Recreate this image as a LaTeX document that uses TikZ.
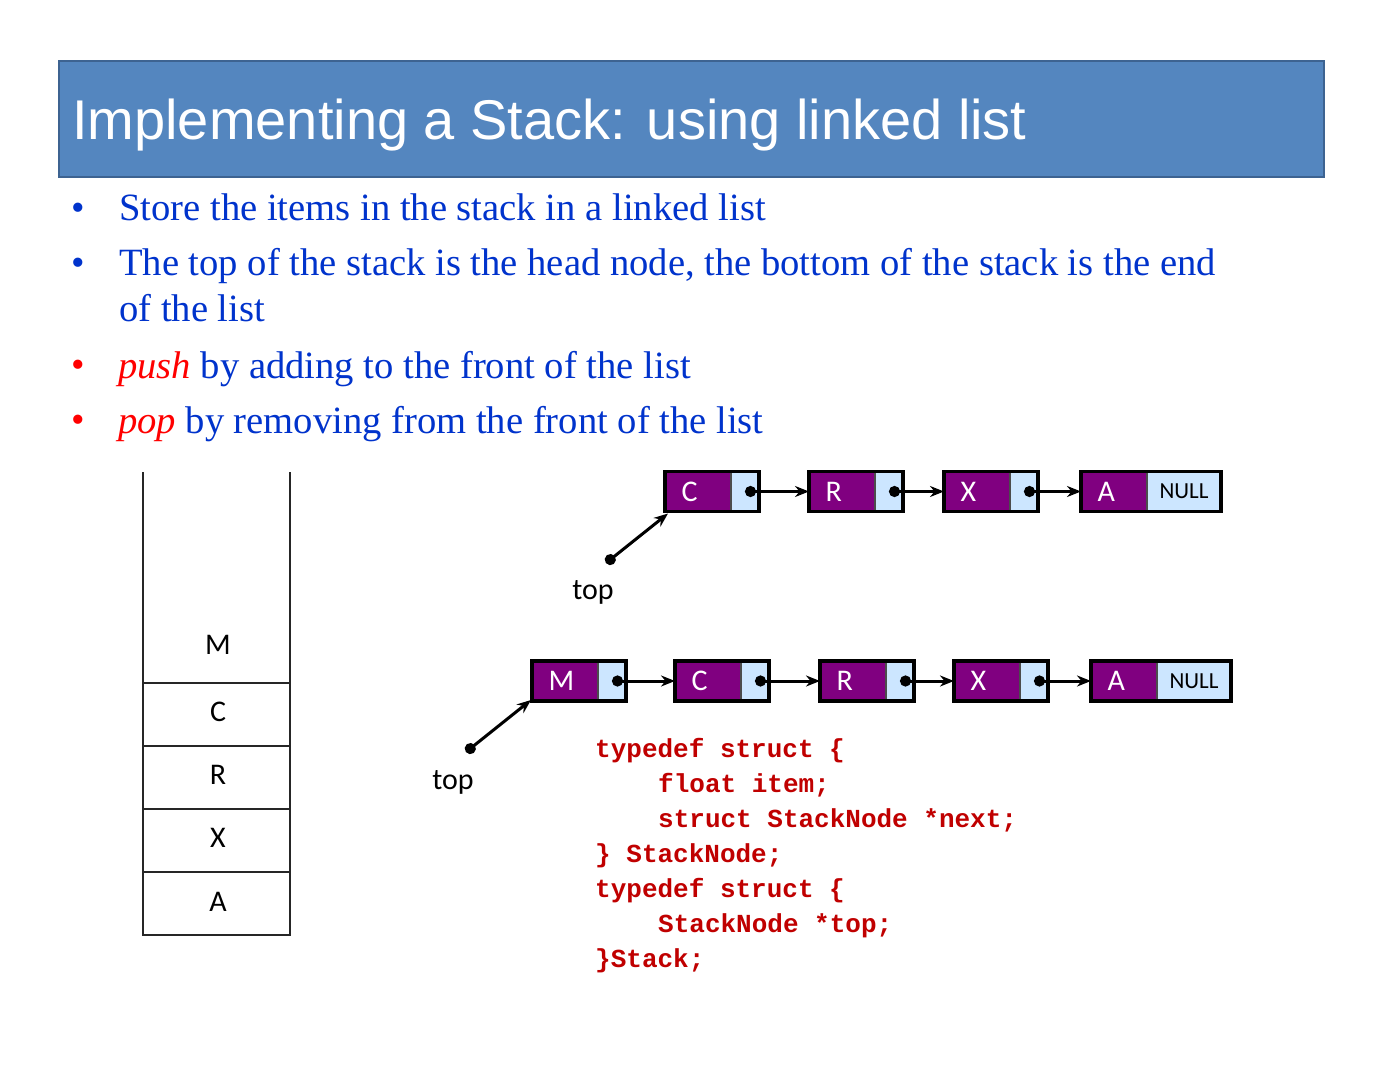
\documentclass[tikz,border=0pt]{standalone}
\usepackage{fontspec}
\setmainfont{Liberation Serif}
\newfontfamily\titlefont{Liberation Sans}
\newfontfamily\cellfont{Carlito}
\newfontfamily\codefont{Liberation Mono}
\usetikzlibrary{arrows.meta}

\definecolor{titlefill}{RGB}{84,134,191}
\definecolor{titleborder}{RGB}{61,99,145}
\definecolor{textblue}{RGB}{0,51,204}
\definecolor{emred}{RGB}{255,0,0}
\definecolor{codered}{RGB}{192,0,0}
\definecolor{datapurple}{RGB}{128,0,128}
\definecolor{ptrblue}{RGB}{204,230,255}

\tikzset{
  bodytext/.style={anchor=base west, inner sep=0pt, font=\fontsize{38.6}{46}\selectfont, text=textblue},
  bulletmark/.style={anchor=base, inner sep=0pt, font=\fontsize{38.6}{46}\selectfont},
  datacell/.style={draw=black!70, line width=1pt, fill=datapurple, text=white,
    minimum width=65pt, minimum height=39pt, inner xsep=0pt, inner ysep=0pt,
    text width=65pt, align=left, anchor=west,
    font=\cellfont\fontsize{30}{30}\selectfont},
  ptrcell/.style={draw=black!70, line width=1pt, fill=ptrblue,
    minimum width=27pt, minimum height=39pt, inner sep=0pt, anchor=west},
  nullcell/.style={draw=black!70, line width=1pt, fill=ptrblue, text=black,
    minimum width=73pt, minimum height=39pt, inner sep=0pt, anchor=west,
    font=\cellfont\fontsize{23}{23}\selectfont},
  cellframe/.style={draw=black, line width=3.5pt},
  link/.style={line width=3pt, {Circle[length=11pt]}-{Stealth[length=14pt,width=11pt]}},
  toplabel/.style={inner sep=0pt, font=\cellfont\fontsize{30}{30}\selectfont},
  stackline/.style={draw=black!85, line width=1.3pt},
  stacklabel/.style={inner sep=0pt, font=\cellfont\fontsize{30}{30}\selectfont},
  codeline/.style={anchor=base west, inner sep=0pt, text=codered,
    font=\codefont\bfseries\fontsize{26}{35}\selectfont}
}
% item letter set a little left of the cell centre
\newcommand{\cellitem}[1]{\hspace*{16pt}#1}

\begin{document}
\begin{tikzpicture}[x=1pt,y=-1pt]
\useasboundingbox (0,0) rectangle (1385,1069);
\fill[white] (0,0) rectangle (1385,1069);

% title bar
\draw[fill=titlefill, draw=titleborder, line width=2pt] (59,61) rectangle (1324,177);
\node[anchor=base west, inner sep=0pt, text=white, font=\titlefont\fontsize{56}{56}\selectfont]
  (title) at (72,139) {Implementing a Stack: using linked list};

% bullet list
\node[bulletmark, text=textblue] (b1) at (78,220) {\textbullet};
\node[bodytext] (t1) at (119,220) {Store the items in the stack in a linked list};
\node[bulletmark, text=textblue] (b2) at (78,275) {\textbullet};
\node[bodytext] (t2) at (119,275) {The top of the stack is the head node, the bottom of the stack is the end};
\node[bodytext] (t2b) at (119,321) {of the list};
\node[bulletmark, text=emred] (b3) at (78,377) {\textbullet};
\node[bodytext] (t3) at (118,378) {\textcolor{emred}{\itshape push} by adding to the front of the list};
\node[bulletmark, text=emred] (b4) at (78,432) {\textbullet};
\node[bodytext] (t4) at (118,433) {\textcolor{emred}{\itshape pop} by removing from the front of the list};

% stack drawn as a column of boxes
\draw[stackline] (143,472) -- (143,935) -- (290,935) -- (290,472);
\draw[stackline] (143,683) -- (290,683);
\draw[stackline] (143,746) -- (290,746);
\draw[stackline] (143,809) -- (290,809);
\draw[stackline] (143,872) -- (290,872);
\node[stacklabel] (sM) at (218,645) {M};
\node[stacklabel] (sC) at (218,712) {C};
\node[stacklabel] (sR) at (218,775) {R};
\node[stacklabel] (sX) at (218,838) {X};
\node[stacklabel] (sA) at (218,902) {A};

% first list: C -> R -> X -> A
\node[datacell] (c1) at (665,491.5) {\cellitem{C}};
\node[ptrcell] (c1p) at (c1.east) {};
\draw[cellframe] (c1.north west) rectangle (c1p.south east);
\node[datacell] (r1) at (809,491.5) {\cellitem{R}};
\node[ptrcell] (r1p) at (r1.east) {};
\draw[cellframe] (r1.north west) rectangle (r1p.south east);
\node[datacell] (x1) at (944,491.5) {\cellitem{X}};
\node[ptrcell] (x1p) at (x1.east) {};
\draw[cellframe] (x1.north west) rectangle (x1p.south east);
\node[datacell] (a1) at (1081,491.5) {\cellitem{A}};
\node[nullcell] (a1p) at (a1.east) {NULL};
\draw[cellframe] (a1.north west) rectangle (a1p.south east);

\draw[link] (c1p.center) -- (r1.west);
\draw[link] (r1p.center) -- (x1.west);
\draw[link] (x1p.center) -- (a1.west);

\coordinate (top1) at (606,563);
\draw[link] (top1) -- ([xshift=3pt,yshift=-2pt]c1.south west);
\node[toplabel] (top1lbl) at (593,592) {top};

% second list: M -> C -> R -> X -> A
\node[datacell] (m2) at (532,681) {\cellitem{M}};
\node[ptrcell] (m2p) at (m2.east) {};
\draw[cellframe] (m2.north west) rectangle (m2p.south east);
\node[datacell] (c2) at (675,681) {\cellitem{C}};
\node[ptrcell] (c2p) at (c2.east) {};
\draw[cellframe] (c2.north west) rectangle (c2p.south east);
\node[datacell] (r2) at (820,681) {\cellitem{R}};
\node[ptrcell] (r2p) at (r2.east) {};
\draw[cellframe] (r2.north west) rectangle (r2p.south east);
\node[datacell] (x2) at (954,681) {\cellitem{X}};
\node[ptrcell] (x2p) at (x2.east) {};
\draw[cellframe] (x2.north west) rectangle (x2p.south east);
\node[datacell] (a2) at (1091,681) {\cellitem{A}};
\node[nullcell] (a2p) at (a2.east) {NULL};
\draw[cellframe] (a2.north west) rectangle (a2p.south east);

\draw[link] (m2p.center) -- (c2.west);
\draw[link] (c2p.center) -- (r2.west);
\draw[link] (r2p.center) -- (x2.west);
\draw[link] (x2p.center) -- (a2.west);

\coordinate (top2) at (466,752);
\draw[link] (top2) -- ([xshift=-1pt,yshift=1pt]m2.south west);
\node[toplabel] (top2lbl) at (453,782) {top};

% structure declarations
\node[codeline] (k1) at (595,757) {typedef struct \{};
\node[codeline] (k2) at (658,792) {float item;};
\node[codeline] (k3) at (658,827) {struct StackNode *next;};
\node[codeline] (k4) at (595,862) {\} StackNode;};
\node[codeline] (k5) at (595,897) {typedef struct \{};
\node[codeline] (k6) at (658,932) {StackNode *top;};
\node[codeline] (k7) at (595,967) {\}Stack;};
\end{tikzpicture}
\end{document}
